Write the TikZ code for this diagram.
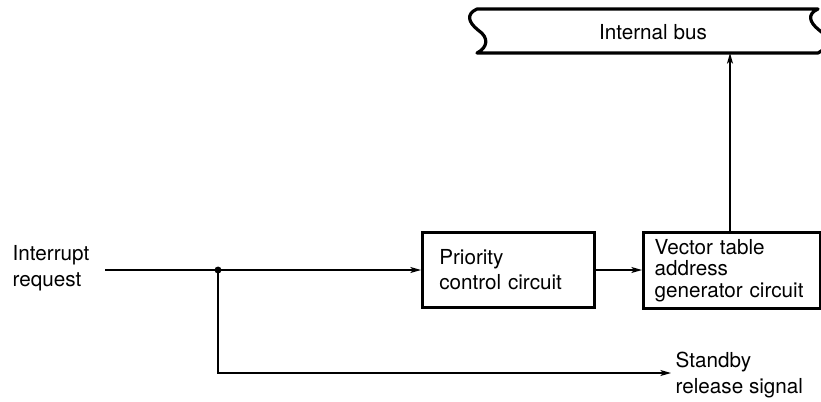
\documentclass[tikz,border=0pt]{standalone}
\usepackage{fontspec}
\setmainfont{TeX Gyre Heros}
\usetikzlibrary{arrows.meta}

\tikzset{
    block/.style={draw=black, line width=2.4pt, align=left, anchor=north west,
        minimum height=56pt, font=\fontsize{15.5}{18.5}\selectfont},
    sig/.style={line width=0.9pt, -{Stealth[length=8pt, width=4.5pt, inset=2pt]}},
    lbl/.style={align=left, anchor=west, font=\fontsize{15.5}{19.5}\selectfont}
}

\begin{document}
\begin{tikzpicture}[x=0.75pt, y=-0.75pt]
        \useasboundingbox (0,0) rectangle (821,401);

        % internal bus
        \begin{scope}
            \clip (0,0) rectangle (821,401);
            \draw[line width=2.4pt, line join=round]
                (477,9) -- (818,9)
                .. controls (807,14) and (809,22) .. (819,30)
                .. controls (831,38) and (828,48) .. (818,53)
                -- (477,53)
                .. controls (487,48) and (490,38) .. (478,30)
                .. controls (468,22) and (466,14) .. cycle;
        \end{scope}
        \node (bus) at (653,32) {\fontsize{15.5}{18}\selectfont Internal bus};
        \coordinate (bus_in) at (730,53);

        % blocks
        \node[block, text width=104pt, inner xsep=12.5pt] (priority) at (421,231)
            {Priority\\control circuit};
        \node[block, text width=116pt, inner xsep=8.25pt, minimum height=57pt,
            font=\fontsize{15.5}{16.25}\selectfont] (vector) at (642,231)
            {Vector table\\address\\generator circuit};

        % signals
        \node[lbl] (irq) at (8,268) {Interrupt\\request};
        \node[lbl] (standby) at (671,375) {Standby\\release signal};

        \coordinate (irq_in) at (105,270);
        \coordinate (split) at (218,270);
        \coordinate (corner) at (218,373);
        \coordinate (standby_in) at (671,373);

        \draw[line width=0.9pt] (irq_in) -- (split);
        \draw[sig] (split) -- (priority.west |- split);
        \draw[sig] (priority.east |- split) -- (vector.west |- split);
        \draw[sig] (split) -- (corner) -- (standby_in);
        \draw[sig] (vector.north -| bus_in) -- (bus_in);

        \fill (split) circle (2.6pt);
    \end{tikzpicture}
\end{document}
